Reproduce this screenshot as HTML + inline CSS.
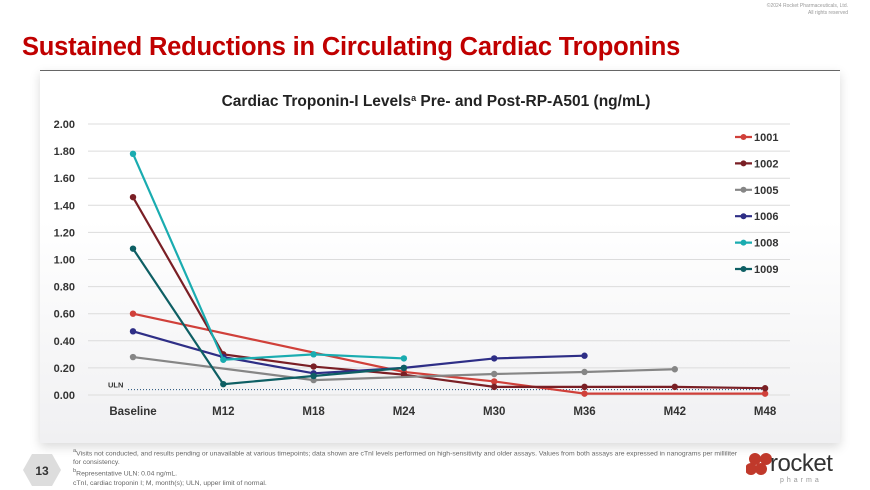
<!DOCTYPE html>
<html><head><meta charset="utf-8"><style>
body{margin:0;width:870px;height:490px;overflow:hidden;background:#fff;font-family:"Liberation Sans",sans-serif;position:relative}
.abs{position:absolute}
</style></head><body>
<div class="abs" style="right:22px;top:3px;font-size:5px;color:#999;text-align:right;line-height:7px">©2024 Rocket Pharmaceuticals, Ltd.<br>All rights reserved</div>
<div class="abs" style="left:22px;top:33px;font-size:25.5px;font-weight:bold;color:#c00000;letter-spacing:-0.2px">Sustained Reductions in Circulating Cardiac Troponins</div>
<div class="abs" style="left:40px;top:70px;width:800px;height:372px;background:linear-gradient(#fff 40%,#f0f0f2);box-shadow:0 4px 10px rgba(0,0,0,0.15);border-top:1px solid #666"></div>
<svg class="abs" style="left:0;top:0" width="870" height="490" id="chart">
<text x="436" y="106" text-anchor="middle" font-size="15.5" font-weight="bold" fill="#222">Cardiac Troponin-I Levels<tspan font-size="9" dy="-5">a</tspan><tspan dy="5"> Pre- and Post-RP-A501 (ng/mL)</tspan></text>
</svg>
<div class="abs" style="left:73px;top:447px;font-size:6.8px;color:#666;line-height:9px;width:670px"><sup>a</sup>Visits not conducted, and results pending or unavailable at various timepoints; data shown are cTnI levels performed on high-sensitivity and older assays. Values from both assays are expressed in nanograms per milliliter for consistency.<br><sup>b</sup>Representative ULN: 0.04 ng/mL.<br>cTnI, cardiac troponin I; M, month(s); ULN, upper limit of normal.</div>
<svg class="abs" style="left:22px;top:453px" width="40" height="34"><polygon points="10,1 30,1 39,17 30,33 10,33 1,17" fill="#ddd"/><text x="20" y="22" text-anchor="middle" font-size="12" font-weight="bold" fill="#333">13</text></svg>
<div class="abs" style="left:746px;top:450px;width:100px;height:36px">
<svg width="30" height="30" style="position:absolute;left:0;top:2px"><circle cx="9" cy="7" r="6" fill="#c0392b"/><circle cx="20" cy="7" r="6" fill="#c0392b"/><circle cx="5" cy="17" r="6" fill="#c0392b"/><circle cx="15" cy="17" r="6" fill="#c0392b"/></svg>
<span style="position:absolute;left:24px;top:0px;font-size:24px;color:#333;letter-spacing:-0.5px">rocket</span>
<span style="position:absolute;left:34px;top:27px;font-size:7px;letter-spacing:3px;color:#999">pharma</span></div>
<script>
const categories=["Baseline","M12","M18","M24","M30","M36","M42","M48"];
const yTicks=[0,0.2,0.4,0.6,0.8,1.0,1.2,1.4,1.6,1.8,2.0];
const seriesNames=["1001","1002","1005","1006","1008","1009"];
const s1001=[0.60,null,null,0.17,0.10,0.01,null,0.01];
const s1002=[1.46,0.30,0.21,0.15,0.06,0.06,0.06,0.05];
const s1005=[0.28,null,0.11,null,0.155,0.17,0.19,null];
const s1006=[0.47,0.28,0.16,0.20,0.27,0.29,null,null];
const s1008=[1.78,0.26,0.30,0.27,null,null,null,null];
const s1009=[1.08,0.08,0.14,0.20,null,null,null,null];
const uln=0.04;
const series=[s1001,s1002,s1005,s1006,s1008,s1009];
const colors=["#d0403a","#7a1f25","#868686","#2e2e86","#1aacb0","#0e5f64"];
const svg=document.getElementById('chart');const NS="http://www.w3.org/2000/svg";
const x=i=>133+i*90.3, y=v=>395-v*135.5;
function mk(t,a){const e=document.createElementNS(NS,t);for(const k in a)e.setAttribute(k,a[k]);svg.appendChild(e);return e;}
yTicks.forEach(v=>{
 const g=mk('line',{x1:88,x2:790,y1:y(v),y2:y(v),stroke:'#dcdcdc','stroke-width':1});
 
 
 const t=mk('text',{x:75,y:y(v)+4,'text-anchor':'end','font-size':11,'font-weight':'bold',fill:'#333'});t.textContent=v.toFixed(2);
 
 
});
categories.forEach((c,i)=>{const t=mk('text',{x:x(i),y:415,'text-anchor':'middle','font-size':11.5,'font-weight':'bold',fill:'#333'});t.textContent=c;
 
 });
const ul=mk('line',{x1:128,x2:770,y1:y(uln),y2:y(uln),stroke:'#1f4e79','stroke-width':1,'stroke-dasharray':'1,2'});


const ut=mk('text',{x:108,y:y(uln)-2,'font-size':7.5,'font-weight':'bold',fill:'#333'});ut.textContent='ULN';


series.forEach((s,k)=>{
 const pts=[];s.forEach((v,i)=>{if(v!==null)pts.push([x(i),y(v)]);});
 const p=mk('polyline',{points:pts.map(q=>q.join(',')).join(' '),fill:'none',stroke:colors[k],'stroke-width':2.2});
 
 
 pts.forEach(q=>{const c=mk('circle',{cx:q[0],cy:q[1],r:3.2,fill:colors[k]});
  
  });
 const ly=137+k*26.4;
 const ll=mk('line',{x1:735,x2:752,y1:ly,y2:ly,stroke:colors[k],'stroke-width':2.2});
 
 
 mk('circle',{cx:743.5,cy:ly,r:3,fill:colors[k]});
 const lt=mk('text',{x:754,y:ly+4,'font-size':11,'font-weight':'bold',fill:'#333'});lt.textContent=seriesNames[k];
 
 
});
</script>
</body></html>
